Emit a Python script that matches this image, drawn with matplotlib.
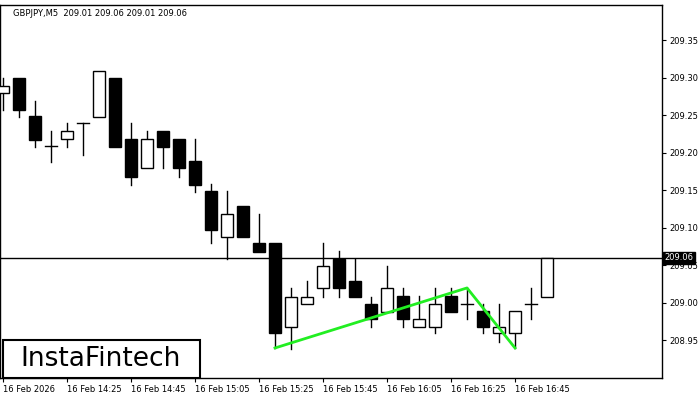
import matplotlib
matplotlib.use("Agg")
import matplotlib.pyplot as plt
from matplotlib.patches import Rectangle

# OHLC, M5 candles from 14:05
opens = [209.28, 209.30, 209.249, 209.209, 209.219, 209.24, 209.248, 209.30, 209.219, 209.18,
         209.229, 209.219, 209.189, 209.149, 209.088, 209.129, 209.08, 209.08, 208.968, 208.999,
         209.02, 209.059, 209.029, 208.999, 208.988, 209.009, 208.968, 208.968, 209.009, 208.999,
         208.989, 208.96, 208.96, 208.999, 209.008]
highs = [209.30, 209.30, 209.269, 209.229, 209.24, 209.24, 209.309, 209.30, 209.24, 209.229,
         209.229, 209.219, 209.219, 209.159, 209.149, 209.129, 209.119, 209.08, 209.02, 209.029,
         209.08, 209.069, 209.059, 209.008, 209.049, 209.02, 209.009, 209.02, 209.02, 209.02,
         208.999, 208.999, 208.989, 209.02, 209.06]
lows = [209.257, 209.248, 209.208, 209.188, 209.208, 209.197, 209.248, 209.208, 209.157, 209.18,
        209.18, 209.168, 209.148, 209.08, 209.059, 209.088, 209.068, 208.94, 208.939, 208.999,
        209.008, 209.008, 209.008, 208.968, 208.988, 208.968, 208.968, 208.96, 208.988, 208.979,
        208.96, 208.948, 208.94, 208.979, 209.008]
closes = [209.289, 209.257, 209.217, 209.209, 209.229, 209.24, 209.309, 209.208, 209.168, 209.219,
          209.208, 209.18, 209.157, 209.097, 209.119, 209.088, 209.068, 208.96, 209.008, 209.008,
          209.049, 209.02, 209.008, 208.979, 209.02, 208.979, 208.979, 208.999, 208.988, 208.999,
          208.968, 208.968, 208.989, 208.999, 209.06]
time_labels = ["16 Feb 2026", "16 Feb 14:25", "16 Feb 14:45", "16 Feb 15:05", "16 Feb 15:25",
               "16 Feb 15:45", "16 Feb 16:05", "16 Feb 16:25", "16 Feb 16:45"]
y_ticks = [208.95, 209.00, 209.05, 209.10, 209.15, 209.20, 209.25, 209.30, 209.35]
pattern_idx = [17, 29, 32]
pattern_price = [208.94, 209.02, 208.94]
last_price = 209.06

fig = plt.figure(figsize=(7, 4), dpi=100)
ax = fig.add_axes([0, 0.055, 0.946, 0.9325])

for i in range(len(opens)):
    o, h, l, c = opens[i], highs[i], lows[i], closes[i]
    lo, hi = min(o, c), max(o, c)
    ax.plot([i, i], [hi, h], color="black", lw=1)
    ax.plot([i, i], [l, lo], color="black", lw=1)
    if abs(c - o) < 0.002:
        ax.plot([i - 0.35, i + 0.35], [o, o], color="black", lw=1)
    else:
        ax.add_patch(Rectangle((i - 0.35, lo), 0.7, hi - lo,
                               facecolor="black" if c < o else "white",
                               edgecolor="black", lw=1, zorder=3))

ax.plot(pattern_idx, pattern_price, color="#22ee22", lw=2, zorder=4)
ax.axhline(last_price, color="black", lw=1)

ax.set_xlim(-0.19, 41.2)
ax.set_ylim(208.90, 209.397)
ax.yaxis.tick_right()
ax.set_yticks(y_ticks)
ax.set_yticklabels([f"{v:.2f}" for v in y_ticks], fontsize=6)
ax.set_xticks(range(0, 4 * len(time_labels), 4))
ax.set_xticklabels(time_labels, fontsize=6, ha="left")
ax.tick_params(length=3, pad=2)
for s in ax.spines.values():
    s.set_linewidth(1)

ax.text(1.003, (last_price - 208.90) / (209.397 - 208.90), f"{last_price:.2f}",
        transform=ax.transAxes, fontsize=6, color="white", va="center", ha="left",
        bbox=dict(facecolor="black", edgecolor="black", pad=1.2))
ax.text(0.02, 0.99, "GBPJPY,M5  209.01 209.06 209.01 209.06", transform=ax.transAxes,
        fontsize=6, va="top", ha="left")

fig.patches.append(Rectangle((3 / 700, 22 / 400), 197 / 700, 38 / 400, transform=fig.transFigure,
                             facecolor="white", edgecolor="black", lw=1.5, zorder=10))
fig.text(101 / 700, 41 / 400, "InstaFintech", fontsize=19, ha="center", va="center", zorder=11)

fig.savefig("out.png", dpi=100)
